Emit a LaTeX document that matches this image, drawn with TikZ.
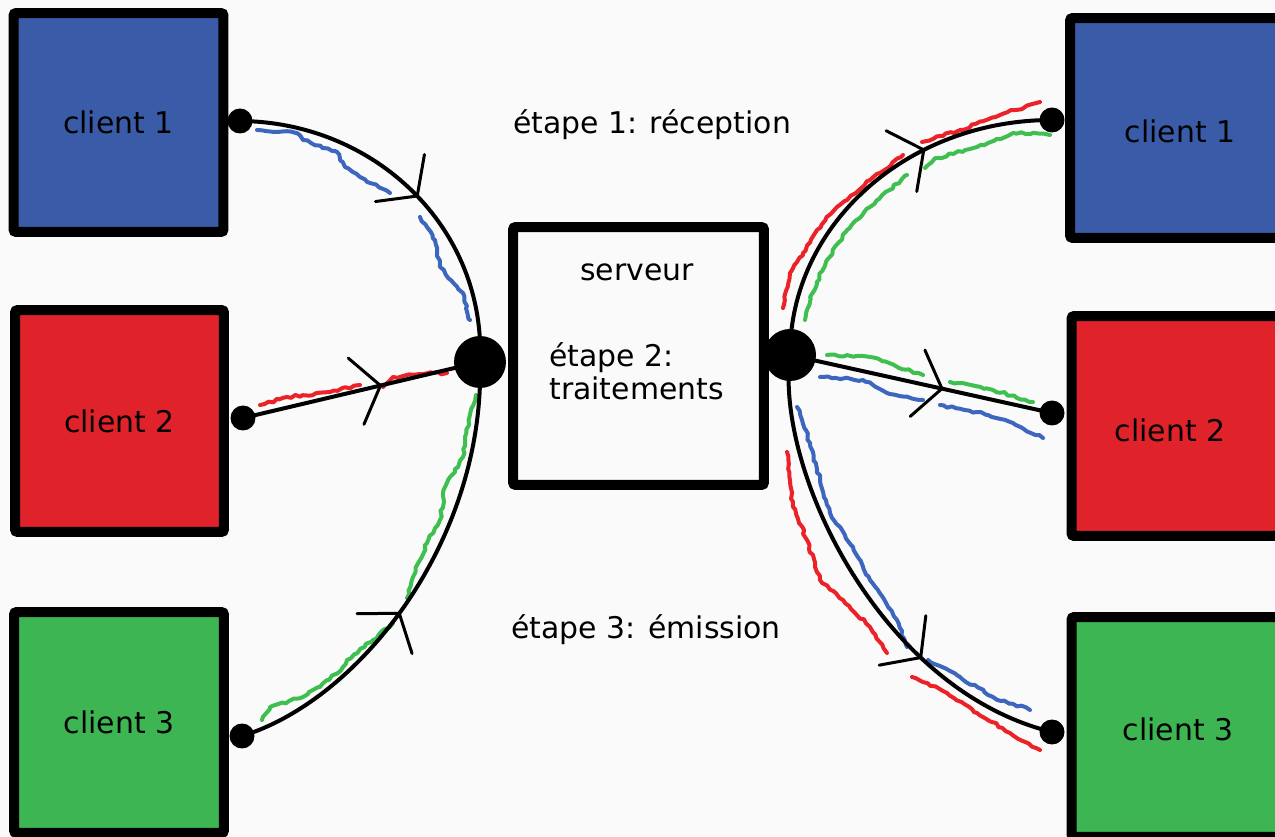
\documentclass[tikz,border=0pt]{standalone}
\usepackage{fontspec}
\setmainfont{DejaVu Sans}
\usetikzlibrary{decorations.pathmorphing,decorations.markings}

\definecolor{cblue}{HTML}{3A5CA8}
\definecolor{cred}{HTML}{E0232B}
\definecolor{cgreen}{HTML}{3DB553}
\definecolor{tblue}{HTML}{3D66BE}
\definecolor{tred}{HTML}{EC2229}
\definecolor{tgreen}{HTML}{3FBF4F}
\definecolor{paper}{HTML}{FAFAFA}

\begin{document}
\begin{tikzpicture}[x=0.02cm,y=-0.02cm,
  box/.style={draw=black, line width=0.2cm, rounded corners=1.5pt, inner sep=0pt},
  lbl/.style={font=\fontsize{17}{20}\selectfont, text=black},
  dot/.style={circle, fill=black, inner sep=0pt, minimum size=0.5cm},
  hub/.style={circle, fill=black, inner sep=0pt, minimum size=1.04cm},
  wire/.style={line width=0.08cm, draw=black},
  chev/.style={postaction={decorate, decoration={markings,
      mark=at position #1 with {\draw[line width=0.06cm, line cap=round]
        (-0.5cm,0.68cm) -- (0,0) -- (-0.5cm,-0.68cm);}}}},
  trace/.style={line width=0.08cm, line cap=round, line join=round,
      decorate, decoration={random steps, segment length=2.4pt, amplitude=0.75pt}}
]
\pgfmathsetseed{11}
\useasboundingbox (0,0) rectangle (1275,837);
\fill[paper] (0,0) rectangle (1275,837);
\clip (0,0) rectangle (1275,837);

% client boxes, left column
\node[box, fill=cblue, minimum width=4.2cm, minimum height=4.38cm, lbl] (lc1) at (118.5,122.5) {client 1};
\node[box, fill=cred, minimum width=4.18cm, minimum height=4.44cm, lbl] (lc2) at (119.5,421) {client 2};
\node[box, fill=cgreen, minimum width=4.2cm, minimum height=4.42cm, lbl] (lc3) at (119,722.5) {client 3};

% client boxes, right column (running past the right edge)
\node[box, fill=cblue, minimum width=4.5cm, minimum height=4.4cm] (rc1) at (1182.5,128) {};
\node[box, fill=cred, minimum width=4.5cm, minimum height=4.4cm] (rc2) at (1184,426) {};
\node[box, fill=cgreen, minimum width=4.5cm, minimum height=4.4cm] (rc3) at (1184,727) {};
\node[lbl] (rc1t) at (1180,131) {client 1};
\node[lbl] (rc2t) at (1170,430) {client 2};
\node[lbl] (rc3t) at (1178,729) {client 3};

% server
\node[box, fill=paper, minimum width=5.02cm, minimum height=5.16cm] (srv) at (638.5,356) {};
\node[lbl] (srvname) at (637,272) {serveur};
\node[lbl, anchor=west, align=left, inner sep=0pt] (step2) at (549,371) {étape 2:\\[-1pt]traitements};

% step captions
\node[lbl] (step1) at (652,125) {étape 1: réception};
\node[lbl] (step3) at (646,630) {étape 3: émission};

% connection points
\coordinate (ld1) at (240,121);
\coordinate (ld2) at (243,418);
\coordinate (ld3) at (242,736);
\coordinate (lh) at (480,362);
\coordinate (rh) at (790,355);
\coordinate (rd1) at (1052,120);
\coordinate (rd2) at (1052,413);
\coordinate (rd3) at (1052,732);

% hand-drawn message traces
\draw[trace, tblue] (257,130) -- (297,133) -- (303,140) -- (337,152) -- (345,167) -- (360,177) -- (390,193);
\draw[trace, tblue] (420,217) -- (435,240) -- (440,267) -- (463,293) -- (470,320);
\draw[trace, tred] (260,405) -- (287,397) -- (330,392) -- (360,385);
\draw[trace, tred] (383,387) -- (393,377) -- (433,373) -- (447,373);
\draw[trace, tgreen] (262,720) -- (270,707) -- (303,697) -- (320,687) -- (343,667) -- (347,660) -- (373,640) -- (393,623);
\draw[trace, tgreen] (407,598) -- (413,577) -- (427,543) -- (440,520) -- (445,487) -- (463,457) -- (465,437) -- (476,395);

\draw[trace, tred] (783,308) -- (790,273) -- (803,253) -- (817,230) -- (837,207) -- (870,180) -- (903,155);
\draw[trace, tred] (922,142) -- (960,130) -- (1000,115) -- (1040,102);
\draw[trace, tgreen] (805,320) -- (810,297) -- (827,260) -- (847,230) -- (870,207) -- (907,175);
\draw[trace, tgreen] (925,168) -- (937,158) -- (977,147) -- (1013,133) -- (1050,135);

\draw[trace, tgreen] (827,355) -- (870,357) -- (923,375);
\draw[trace, tgreen] (950,382) -- (993,390) -- (1033,402);
\draw[trace, tblue] (820,377) -- (863,380) -- (887,393) -- (923,400);
\draw[trace, tblue] (940,405) -- (977,412) -- (1013,423) -- (1043,438);

\draw[trace, tblue] (797,407) -- (810,443) -- (820,480) -- (830,513) -- (853,547) -- (870,580) -- (897,620) -- (907,647);
\draw[trace, tblue] (928,660) -- (960,677) -- (993,697) -- (1030,710);
\draw[trace, tred] (787,452) -- (793,507) -- (807,540) -- (820,580) -- (843,600) -- (870,627) -- (887,653);
\draw[trace, tred] (912,677) -- (947,693) -- (977,713) -- (1010,733) -- (1040,750);

% connectors, each with a mid-path chevron
\draw[wire, chev=0.52] (ld1) .. controls (375,122) and (486,228) .. (lh);
\draw[wire, chev=0.58] (ld2) -- (lh);
\draw[wire, chev=0.43] (ld3) .. controls (360,700) and (485,540) .. (lh);
\draw[wire, chev=0.66] (rh) .. controls (790,225) and (907,120) .. (rd1);
\draw[wire, chev=0.58] (rh) -- (rd2);
\draw[wire, chev=0.69] (rh) .. controls (775,470) and (880,690) .. (rd3);

% junction dots
\node[dot] (ld1n) at (ld1) {};
\node[dot] (ld2n) at (ld2) {};
\node[dot] (ld3n) at (ld3) {};
\node[hub] (lhn) at (lh) {};
\node[hub] (rhn) at (rh) {};
\node[dot] (rd1n) at (rd1) {};
\node[dot] (rd2n) at (rd2) {};
\node[dot] (rd3n) at (rd3) {};
\end{tikzpicture}
\end{document}
